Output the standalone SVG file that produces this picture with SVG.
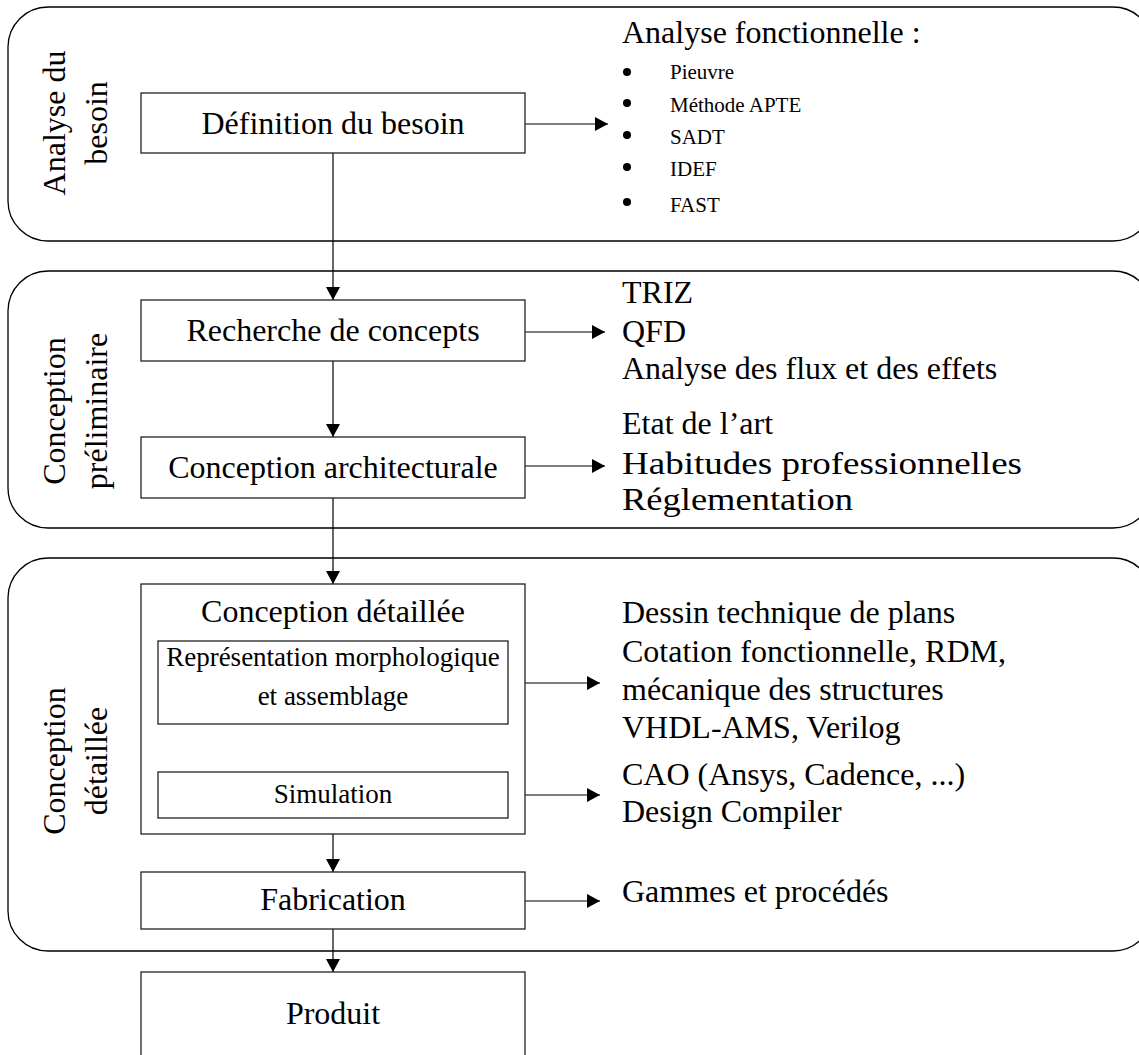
<svg xmlns="http://www.w3.org/2000/svg" width="1139" height="1055" viewBox="0 0 1139 1055">
<defs>
<marker id="ah" markerWidth="13" markerHeight="14" refX="13" refY="7" orient="auto" markerUnits="userSpaceOnUse">
<path d="M0,0 L13,7 L0,14 Z" fill="#000"/>
</marker>
<style>
text{font-family:"Liberation Serif","Times New Roman",serif;fill:#000}
.big{font-size:32px}
.mid{font-size:27px}
.sm{font-size:21px}
.c{text-anchor:middle}
.panel{fill:none;stroke:#000;stroke-width:1.3}
.box{fill:#fff;stroke:#222;stroke-width:1.3}
.conn{fill:none;stroke:#000;stroke-width:1.2}
.ar{marker-end:url(#ah)}
</style>
</defs>
<rect width="1139" height="1055" fill="#fff"/>

<g id="panel-analyse">
<rect class="panel" x="8" y="7" width="1145" height="234" rx="40" ry="40"/>
<text class="big c" transform="translate(65,123) rotate(-90)">Analyse du</text>
<text class="big c" transform="translate(107,123) rotate(-90)">besoin</text>
</g>
<g id="panel-preliminaire">
<rect class="panel" x="8" y="271" width="1145" height="257" rx="40" ry="40"/>
<text class="big c" transform="translate(65,411) rotate(-90)">Conception</text>
<text class="big c" transform="translate(107,411) rotate(-90)">préliminaire</text>
</g>
<g id="panel-detaillee">
<rect class="panel" x="8" y="558" width="1145" height="393" rx="40" ry="40"/>
<text class="big c" transform="translate(65,761) rotate(-90)">Conception</text>
<text class="big c" transform="translate(107,761) rotate(-90)">détaillée</text>
</g>

<g id="connectors">
<line class="conn ar" x1="333" y1="153" x2="333" y2="300"/>
<line class="conn ar" x1="333" y1="361" x2="333" y2="437"/>
<line class="conn ar" x1="333" y1="498" x2="333" y2="584"/>
<line class="conn ar" x1="333" y1="834" x2="333" y2="872"/>
<line class="conn ar" x1="333" y1="929" x2="333" y2="972"/>
<line class="conn ar" x1="525" y1="124" x2="608" y2="124"/>
<line class="conn ar" x1="525" y1="332" x2="605" y2="332"/>
<line class="conn ar" x1="525" y1="466" x2="605" y2="466"/>
<line class="conn ar" x1="508" y1="683" x2="600" y2="683"/>
<line class="conn ar" x1="508" y1="795" x2="600" y2="795"/>
<line class="conn ar" x1="525" y1="901" x2="600" y2="901"/>
</g>

<g id="node-definition">
<rect class="box" x="141" y="93" width="384" height="60"/>
<text class="big c" x="333" y="134">Définition du besoin</text>
</g>
<g id="node-recherche">
<rect class="box" x="141" y="300" width="384" height="61"/>
<text class="big c" x="333" y="341">Recherche de concepts</text>
</g>
<g id="node-architecturale">
<rect class="box" x="141" y="437" width="384" height="61"/>
<text class="big c" x="333" y="478">Conception architecturale</text>
</g>
<g id="node-detaillee">
<rect class="box" x="141" y="584" width="384" height="250"/>
<text class="big c" x="333" y="622">Conception détaillée</text>
</g>
<g id="node-representation">
<rect class="box" x="158" y="641" width="350" height="83"/>
<text class="mid c" x="333" y="666">Représentation morphologique</text>
<text class="mid c" x="333" y="705">et assemblage</text>
</g>
<g id="node-simulation">
<rect class="box" x="158" y="772" width="350" height="46"/>
<text class="mid c" x="333" y="803">Simulation</text>
</g>
<g id="node-fabrication">
<rect class="box" x="141" y="872" width="384" height="57"/>
<text class="big c" x="333" y="910">Fabrication</text>
</g>
<g id="node-produit">
<rect class="box" x="141" y="972" width="384" height="100"/>
<text class="big c" x="333" y="1024">Produit</text>
</g>

<g id="note-analyse-fonctionnelle">
<text class="big" x="622" y="43">Analyse fonctionnelle :</text>
<circle cx="627" cy="72" r="4"/>
<circle cx="627" cy="103" r="4"/>
<circle cx="627" cy="135" r="4"/>
<circle cx="627" cy="167" r="4"/>
<circle cx="627" cy="202" r="4"/>
<text class="sm" x="670" y="79">Pieuvre</text>
<text class="sm" x="670" y="112">Méthode APTE</text>
<text class="sm" x="670" y="144">SADT</text>
<text class="sm" x="670" y="176">IDEF</text>
<text class="sm" x="670" y="212">FAST</text>
</g>
<g id="note-recherche">
<text class="big" x="622" y="303">TRIZ</text>
<text class="big" x="622" y="342">QFD</text>
<text class="big" x="622" y="379">Analyse des flux et des effets</text>
</g>
<g id="note-architecturale">
<text class="big" x="622" y="434">Etat de l’art</text>
<text class="big" x="622" y="474" textLength="400" lengthAdjust="spacingAndGlyphs">Habitudes professionnelles</text>
<text class="big" x="622" y="510" textLength="231" lengthAdjust="spacingAndGlyphs">Réglementation</text>
</g>
<g id="note-representation">
<text class="big" x="622" y="623">Dessin technique de plans</text>
<text class="big" x="622" y="662">Cotation fonctionnelle, RDM,</text>
<text class="big" x="622" y="700">mécanique des structures</text>
<text class="big" x="622" y="738">VHDL-AMS, Verilog</text>
</g>
<g id="note-simulation">
<text class="big" x="622" y="785">CAO (Ansys, Cadence, ...)</text>
<text class="big" x="622" y="822">Design Compiler</text>
</g>
<g id="note-fabrication">
<text class="big" x="622" y="902">Gammes et procédés</text>
</g>
</svg>
